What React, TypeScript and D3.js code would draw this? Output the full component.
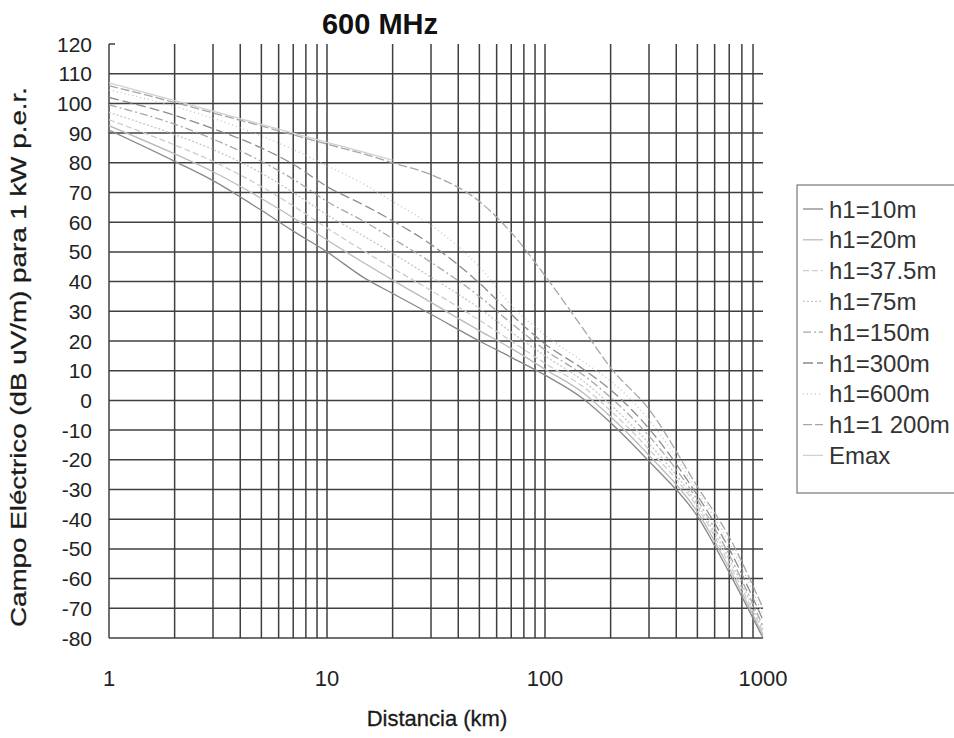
import * as d3 from 'd3'

// distances (km) shared by every curve
const distances = [1, 2, 3, 5, 7, 10, 15, 20, 30, 50, 70, 100, 150, 200, 300, 500, 700, 1000]

// field strength (dB uV/m for 1 kW e.r.p.)
const h10 = [91, 80.5, 74, 64, 57, 50, 41, 36, 29, 20, 14.5, 8.5, 0.5, -7.5, -20.5, -39, -58, -80]
const h20 = [92.5, 83, 77, 68, 61.5, 54, 46, 40.5, 33, 23.5, 17.5, 10.5, 2.5, -5.5, -18.5, -37.5, -56.5, -79]
const h37 = [94.5, 86, 80.5, 72, 65.5, 58, 50, 44.5, 37, 27, 20, 12.5, 4.5, -3.5, -16.5, -36, -55, -78]
const h75 = [97, 89.5, 84.5, 76.5, 70, 62.5, 55, 49.5, 41.5, 31, 23, 15, 6.5, -1.5, -14.5, -35, -53.5, -77]
const h150 = [99.5, 93, 88, 80.5, 74.5, 67, 60, 54.5, 46.5, 35, 26, 17, 8.5, 1, -12, -33.5, -52, -76]
const h300 = [102, 96, 91.5, 85, 79.5, 72, 65.5, 60.5, 52.5, 39.5, 29, 19, 10.5, 3.5, -9.5, -32, -50, -74]
const h600 = [104.5, 99, 95, 89, 84.5, 79, 72.5, 67, 59, 45, 32, 22, 13, 6.5, -6.5, -30.5, -48, -72]
const h1200 = [106, 100.3, 96.8, 92.4, 89.4, 86.3, 82.8, 80, 76, 67, 56.5, 42, 24, 11, -3, -29, -46, -70]
const emax = [106.9, 100.9, 97.4, 92.9, 90, 86.9, 83.4, 80.9, null, null, null, null, null, null, null, null, null, null]

const seriesNames = ['h1=10m', 'h1=20m', 'h1=37.5m', 'h1=75m', 'h1=150m', 'h1=300m', 'h1=600m', 'h1=1 200m', 'Emax']
const seriesValues = [h10, h20, h37, h75, h150, h300, h600, h1200, emax]

const yTicks = d3.range(-80, 121, 10)
const xTickLabels = [1, 10, 100, 1000]
const xGrid = [2, 3, 4, 5, 6, 7, 8, 9, 10, 20, 30, 40, 50, 60, 70, 80, 90, 100, 200, 300, 400, 500, 600, 700, 800, 900]

// line looks, one per series
const styles = [
  { stroke: '#888', dash: '' },
  { stroke: '#bbb', dash: '' },
  { stroke: '#cdcdcd', dash: '6,3' },
  { stroke: '#c6c6c6', dash: '2,2' },
  { stroke: '#a8a8a8', dash: '8,3,2,3' },
  { stroke: '#8c8c8c', dash: '10,4' },
  { stroke: '#c2c2c2', dash: '1,3' },
  { stroke: '#a6a6a6', dash: '9,3' },
  { stroke: '#d0d0d0', dash: '' },
]

const font = 'Liberation Sans, Arial, sans-serif'

const App = () => {
  const W = 954
  const H = 738
  const left = 109, right = 763, top = 44, bottom = 638

  const x = d3.scaleLog().domain([1, 1000]).range([left, right])
  const y = d3.scaleLinear().domain([-80, 120]).range([bottom, top])

  const line = d3.line<[number, number | null]>()
    .defined(d => d[1] !== null)
    .x(d => x(d[0]))
    .y(d => y(d[1] as number))
    .curve(d3.curveMonotoneX)

  const legendX = 797, legendY = 185, legendStep = 30.8
  const gridColor = '#3f3f3f'

  return (
    <svg width={W} height={H} style={{ position: 'absolute', left: 0, top: 0, background: '#fff' }} fontFamily={font}>
      <defs>
        <clipPath id="plot">
          <rect x={left} y={top} width={right - left + 1} height={bottom - top} />
        </clipPath>
      </defs>

      {/* horizontal grid */}
      {yTicks.filter(t => t < 120).map(t => (
        <line key={'h' + t} x1={left} x2={right} y1={y(t)} y2={y(t)} stroke={gridColor} strokeWidth={1.5} />
      ))}
      <line x1={left} x2={left + 6} y1={y(120)} y2={y(120)} stroke={gridColor} strokeWidth={1.5} />
      {/* vertical grid */}
      <line x1={x(1)} x2={x(1)} y1={top} y2={bottom} stroke={gridColor} strokeWidth={1.5} />
      {xGrid.map(d => (
        <line key={'v' + d} x1={x(d)} x2={x(d)} y1={top} y2={bottom} stroke={gridColor} strokeWidth={1.5} />
      ))}

      {/* curves */}
      <g clipPath="url(#plot)">
        {seriesValues.map((vals, i) => (
          <path
            key={seriesNames[i]}
            d={line(distances.map((d, j) => [d, vals[j]]) as [number, number | null][]) || ''}
            fill="none"
            stroke={styles[i].stroke}
            strokeWidth={1.3}
            strokeDasharray={styles[i].dash}
          />
        ))}
      </g>

      {/* y tick labels */}
      {yTicks.map(t => (
        <text key={'yl' + t} x={92} y={y(t)} dy="0.36em" textAnchor="end" fontSize={21} fill="#222">{t}</text>
      ))}
      {/* x tick labels */}
      {xTickLabels.map(t => (
        <text key={'xl' + t} x={x(t)} y={686} textAnchor="middle" fontSize={22} fill="#222">{t}</text>
      ))}

      {/* titles */}
      <text x={380} y={34} textAnchor="middle" fontSize={29} fontWeight="bold" fill="#111">600 MHz</text>
      <text x={437} y={726} textAnchor="middle" fontSize={22} fill="#1a1a1a" stroke="#1a1a1a" strokeWidth={0.3}>Distancia (km)</text>
      <text
        transform="translate(26,357) rotate(-90)"
        textAnchor="middle"
        fontSize={22}
        fill="#1a1a1a"
        stroke="#1a1a1a"
        strokeWidth={0.3}
        textLength={540}
        lengthAdjust="spacingAndGlyphs"
      >
        Campo Eléctrico (dB uV/m) para 1 kW p.e.r.
      </text>

      {/* legend */}
      <rect x={legendX} y={legendY} width={180} height={308} fill="#fff" stroke="#777" strokeWidth={1.2} />
      {seriesNames.map((name, i) => {
        const cy = legendY + 24 + i * legendStep
        return (
          <g key={'lg' + name}>
            <line x1={803} x2={823} y1={cy} y2={cy} stroke={styles[i].stroke} strokeWidth={1.3} strokeDasharray={styles[i].dash} />
            <text x={829} y={cy} dy="0.36em" fontSize={24} fill="#333">{name}</text>
          </g>
        )
      })}
    </svg>
  )
}

export default App
